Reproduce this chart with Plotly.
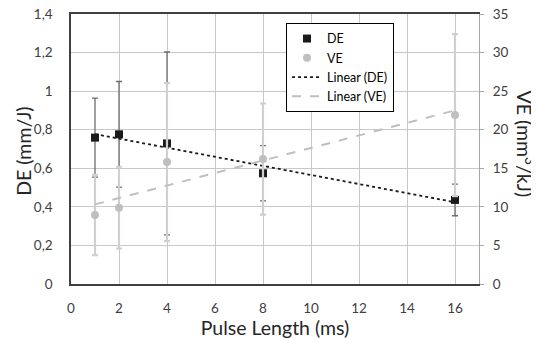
import numpy as np
import plotly.graph_objects as go

pulse_ms = [1, 2, 4, 8, 16]
de_vals = [0.759, 0.776, 0.729, 0.574, 0.436]
de_err = [0.205, 0.274, 0.474, 0.143, 0.082]
ve_vals = [8.94, 9.9, 15.8, 16.2, 21.9]
ve_err = [5.2, 5.3, 10.25, 7.2, 10.5]
x_ticks = [0, 2, 4, 6, 8, 10, 12, 14, 16]
de_ticks = [0, 0.2, 0.4, 0.6, 0.8, 1.0, 1.2, 1.4]
ve_ticks = [0, 5, 10, 15, 20, 25, 30, 35]

FONT = "Lato"
TICK = 13.5
TITLE = 19.5

de_fit = np.polyfit(pulse_ms, de_vals, 1)
ve_fit = np.polyfit(pulse_ms, ve_vals, 1)
xf = [pulse_ms[0], pulse_ms[-1]]

fig = go.Figure()

fig.add_trace(go.Scatter(
    x=pulse_ms, y=ve_vals, mode="markers", name="VE", yaxis="y2",
    marker=dict(symbol="circle", size=8, color="#bfbfbf"),
    error_y=dict(type="data", array=ve_err, color="#cfcfcf", thickness=2.2, width=3),
))
fig.add_trace(go.Scatter(
    x=pulse_ms, y=de_vals, mode="markers", name="DE",
    marker=dict(symbol="square", size=8, color="#1a1a1a"),
    error_y=dict(type="data", array=de_err, color="#6e6e6e", thickness=1.3, width=3),
))
fig.add_trace(go.Scatter(
    x=xf, y=list(np.polyval(de_fit, xf)), mode="lines", name="Linear (DE)",
    line=dict(color="#1a1a1a", width=1.8, dash="dot"),
))
fig.add_trace(go.Scatter(
    x=xf, y=list(np.polyval(ve_fit, xf)), mode="lines", name="Linear (VE)", yaxis="y2",
    line=dict(color="#bfbfbf", width=2, dash="dash"),
))

fig.update_layout(
    width=531, height=331,
    margin=dict(l=63, r=60, t=6, b=55, autoexpand=False),
    paper_bgcolor="white", plot_bgcolor="white",
    separators=",.",
    font=dict(family=FONT, size=13, color="#404040"),
    showlegend=True,
    legend=dict(
        x=0.527, y=0.967, xanchor="left", yanchor="top",
        bgcolor="white", bordercolor="#000000", borderwidth=1,
        font=dict(family=FONT, size=12.5, color="#000000"),
        traceorder="normal",
        tracegroupgap=0, itemwidth=30,
    ),
    xaxis=dict(
        range=[0, 17], tickvals=x_ticks, ticktext=[str(v) for v in x_ticks],
        automargin=False, ticklabeloverflow="allow",
        showgrid=True, gridcolor="#c8c8c8", gridwidth=1,
        showline=True, linecolor="#404040", linewidth=1.5, mirror=True,
        zeroline=False, ticks="", ticklabelstandoff=11,
        tickfont=dict(size=TICK, family=FONT, color="#404040"),
        title=dict(text="Pulse Length (ms)", font=dict(size=TITLE, family=FONT, color="#262626"), standoff=3),
    ),
    yaxis=dict(
        range=[0, 1.4], tickvals=de_ticks, automargin=False, ticklabeloverflow="allow",
        showgrid=True, gridcolor="#c8c8c8", gridwidth=1,
        showline=True, linecolor="#404040", linewidth=1.5,
        zeroline=False, ticks="", ticklabelstandoff=14,
        tickfont=dict(size=TICK, family=FONT, color="#404040"),
    ),
    yaxis2=dict(
        range=[0, 35], tickvals=ve_ticks, overlaying="y", side="right", automargin=False,
        ticklabeloverflow="allow",
        showgrid=False, showline=True, linecolor="#a6a6a6", linewidth=1,
        zeroline=False, ticks="outside", ticklen=4, tickcolor="#a6a6a6", ticklabelstandoff=6,
        tickfont=dict(size=TICK, family=FONT, color="#404040"),
    ),
    annotations=[
        dict(
            text="DE (mm/J)", textangle=-90, xref="paper", yref="paper",
            x=-0.115, y=0.49, xanchor="center", yanchor="middle", showarrow=False,
            font=dict(size=TITLE, family=FONT, color="#262626"),
        ),
        dict(
            text="VE (mm<sup>3</sup>/kJ)", textangle=90, xref="paper", yref="paper",
            x=1.113, y=0.52, xanchor="center", yanchor="middle", showarrow=False,
            font=dict(size=TITLE, family=FONT, color="#262626"),
        ),
    ],
)

fig.data[0].legendrank = 2
fig.data[1].legendrank = 1
fig.data[2].legendrank = 3
fig.data[3].legendrank = 4

fig.write_html("out.html")
